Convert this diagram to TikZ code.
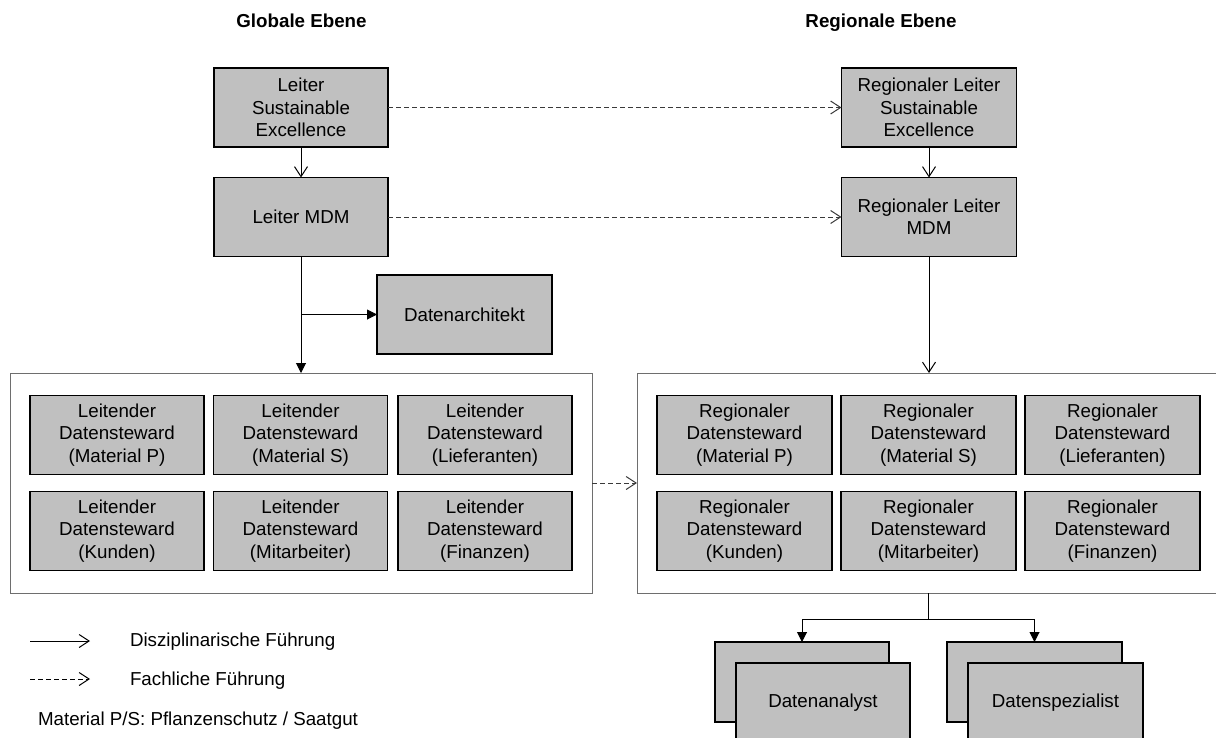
\documentclass[tikz,border=0pt]{standalone}
\usepackage{fontspec}
\setmainfont{Liberation Sans}
\usetikzlibrary{arrows.meta}
\definecolor{boxgray}{HTML}{C0C0C0}
\definecolor{framegray}{HTML}{6E6E6E}
\definecolor{dashgray}{HTML}{3A3A3A}
\begin{document}
\begin{tikzpicture}[x=1pt,y=-1pt,
  every node/.style={font=\fontsize{18.75}{22.3}\selectfont, inner sep=0pt, outer sep=0pt},
  box/.style={draw=black, line width=1.2pt, fill=boxgray, minimum width=174pt, minimum height=79pt, align=center},
  frame/.style={draw=framegray, line width=1pt, minimum width=582pt, minimum height=220pt},
  heading/.style={font=\fontsize{18.75}{22.3}\selectfont\bfseries, anchor=base},
  disc/.style={line width=1pt, -{Straight Barb[length=10pt,width=13pt]}},
  disctri/.style={line width=1pt, -{Triangle[length=10pt,width=10pt]}},
  tech/.style={line width=1pt, draw=dashgray, dash pattern=on 5pt off 3pt, -{Straight Barb[length=10pt,width=13pt]}},
]
\useasboundingbox (0,0) rectangle (1216,737);
\clip (0,0) rectangle (1216,737);

% level headings
\node[heading] (hglob) at (301.5,27) {Globale Ebene};
\node[heading] (hreg) at (881,27) {Regionale Ebene};

% global level
\node[box] (lse) at (301,107.5) {Leiter\\Sustainable\\Excellence};
\node[box] (lmdm) at (301,217) {Leiter MDM};
\node[box, minimum width=175pt] (arch) at (464.5,314.5) {Datenarchitekt};
\node[frame] (lcont) at (301,483) {};
\node[box] (l11) at (117,435) {Leitender\\Datensteward\\(Material P)};
\node[box] (l12) at (300.5,435) {Leitender\\Datensteward\\(Material S)};
\node[box] (l13) at (485,435) {Leitender\\Datensteward\\(Lieferanten)};
\node[box] (l21) at (117,531) {Leitender\\Datensteward\\(Kunden)};
\node[box] (l22) at (300.5,531) {Leitender\\Datensteward\\(Mitarbeiter)};
\node[box] (l23) at (485,531) {Leitender\\Datensteward\\(Finanzen)};

% regional level
\node[box, minimum width=175pt] (rse) at (929,107.5) {Regionaler Leiter\\Sustainable\\Excellence};
\node[box, minimum width=175pt] (rmdm) at (929,217) {Regionaler Leiter\\MDM};
\node[frame, minimum width=583pt] (rcont) at (928.5,483) {};
\node[box, minimum width=175pt] (r11) at (744.5,435) {Regionaler\\Datensteward\\(Material P)};
\node[box, minimum width=175pt] (r12) at (928.5,435) {Regionaler\\Datensteward\\(Material S)};
\node[box, minimum width=175pt] (r13) at (1112.5,435) {Regionaler\\Datensteward\\(Lieferanten)};
\node[box, minimum width=175pt] (r21) at (744.5,531) {Regionaler\\Datensteward\\(Kunden)};
\node[box, minimum width=175pt] (r22) at (928.5,531) {Regionaler\\Datensteward\\(Mitarbeiter)};
\node[box, minimum width=175pt] (r23) at (1112.5,531) {Regionaler\\Datensteward\\(Finanzen)};

% stacked role boxes
\node[box, minimum height=80pt] (anaB) at (802,682) {};
\node[box, minimum height=80pt] (anaF) at (823,703) {Datenanalyst};
\node[box, minimum width=175pt, minimum height=80pt] (speB) at (1034.5,682) {};
\node[box, minimum width=175pt, minimum height=80pt] (speF) at (1055.5,703) {Datenspezialist};

% disciplinary lines
\draw[disc] (lse.south) -- (lmdm.north);
\draw[disctri] (lmdm.south) -- (lcont.north);
\coordinate (br) at (301,314.5);
\draw[disctri] (br) -- (arch.west);
\draw[disc] (rse.south) -- (rmdm.north);
\draw[disc] (rmdm.south) -- (rmdm.south |- rcont.north);
\coordinate (split) at (928.5,619.3);
\draw[line width=1pt] (rcont.south) -- (split);
\draw[disctri] (split) -| (anaB.north);
\draw[disctri] (split) -| (speB.north);

% technical lines
\draw[tech] (lse.east) -- (rse.west);
\draw[tech] (lmdm.east) -- (rmdm.west);
\draw[tech] (lcont.east) -- (rcont.west);

% legend
\coordinate (lga) at (30,641);
\coordinate (lgb) at (90,641);
\coordinate (lgc) at (30,679);
\coordinate (lgd) at (90,679);
\draw[disc] (lga) -- (lgb);
\draw[tech, draw=black] (lgc) -- (lgd);
\node[anchor=base west] (lgt1) at (130,646) {Disziplinarische Führung};
\node[anchor=base west] (lgt2) at (130,685) {Fachliche Führung};
\node[anchor=base west] (lgt3) at (38,725) {Material P/S: Pflanzenschutz / Saatgut};
\end{tikzpicture}
\end{document}
